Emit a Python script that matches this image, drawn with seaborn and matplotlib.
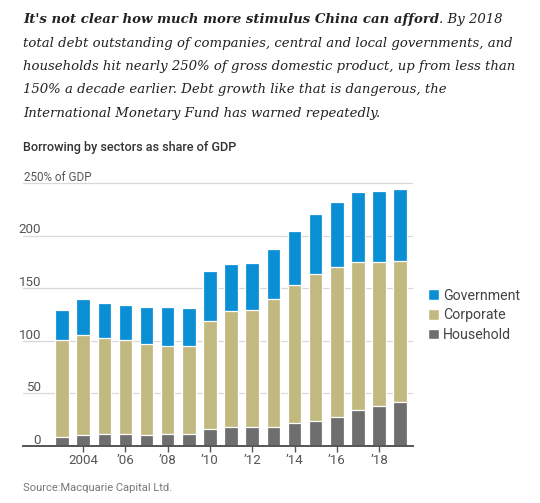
import matplotlib
matplotlib.use("Agg")
import matplotlib.pyplot as plt
import matplotlib.transforms as mtransforms
from matplotlib.patches import Patch
import seaborn as sns
import pandas as pd

# ---- data ----
years = list(range(2003, 2020))
household = [8.9, 10.8, 11.8, 11.8, 10.8, 11.8, 11.8, 15.9, 17.8, 17.8, 18.5, 22.0, 23.9, 27.7, 34.4, 37.6, 41.4]
corporate_top = [100.3, 105.7, 102.9, 100.3, 97.1, 94.9, 95.5, 118.8, 128.0, 129.0, 140.1, 153.5, 163.4, 169.7, 174.5, 174.5, 175.5]
total = [129.6, 139.8, 136.0, 134.4, 132.5, 132.5, 131.5, 165.9, 173.2, 174.2, 187.3, 204.8, 220.7, 231.8, 241.4, 242.0, 244.6]
corporate = [c - h for c, h in zip(corporate_top, household)]
government = [t - c for t, c in zip(total, corporate_top)]
xtick_years = [2004, 2006, 2008, 2010, 2012, 2014, 2016, 2018]
xtick_labels = ["2004", "\u201906", "\u201908", "\u201910", "\u201912", "\u201914", "\u201916", "\u201918"]
ytick_values = [0, 50, 100, 150, 200]
ytick_labels = ["0", "50", "100", "150", "200"]
top_label = "250% of GDP"
series_names = ["Government", "Corporate", "Household"]

COL_GOV = "#0a8fd4"
COL_CORP = "#c2b981"
COL_HH = "#6e6e6e"

df = pd.DataFrame({
    "year": years,
    "household": household,
    "corp_cum": [h + c for h, c in zip(household, corporate)],
    "total": [h + c + g for h, c, g in zip(household, corporate, government)],
})

W, H = 540, 503
sns.set_style("white")
SANS = ["Roboto", "DejaVu Sans"]
plt.rcParams["font.family"] = SANS
fig = plt.figure(figsize=(W / 100, H / 100), dpi=100)
renderer = fig.canvas.get_renderer()

def fit_width(t, target_px):
    w = t.get_window_extent(renderer=renderer).width
    t.set_fontsize(t.get_fontsize() * target_px / w)

# axes placement in pixels
ax_l, ax_r = 23, 413
y0_px, ppu = 446, 1.052
ymax = 260
ax_top = y0_px - ymax * ppu
ax = fig.add_axes([ax_l / W, 1 - y0_px / H, (ax_r - ax_l) / W, (y0_px - ax_top) / H])

bar_w = 0.64
for col, color in [("total", COL_GOV), ("corp_cum", COL_CORP), ("household", COL_HH)]:
    sns.barplot(data=df, x="year", y=col, native_scale=True, color=color,
                width=bar_w, edgecolor="white", linewidth=0.9, ax=ax, saturation=1)

ppy = 21.14
x_left = 2003 - (62 - ax_l) / ppy
x_right = x_left + (ax_r - ax_l) / ppy
ax.set_xlim(x_left, x_right)
ax.set_ylim(0, ymax)

for s in ["top", "right", "left"]:
    ax.spines[s].set_visible(False)
ax.spines["bottom"].set_color("#555555")
ax.spines["bottom"].set_linewidth(1.4)
ax.spines["bottom"].set_zorder(5)

ax.set_xticks(xtick_years)
ax.set_xticklabels(xtick_labels, fontsize=9.6, color="#555555")
ax.tick_params(axis="x", length=4, width=1, color="#555555", pad=2, direction="out", bottom=True)
ax.set_yticks([])
ax.set_xlabel("")
ax.set_ylabel("")

for v in ytick_values[1:] + [250]:
    ax.axhline(v, color="#d8d8d8", lw=0.9, zorder=0)

blend = mtransforms.blended_transform_factory(ax.transAxes, ax.transData)
off = mtransforms.offset_copy(blend, fig=fig, x=0, y=1.6, units="points")
lab_x = (41 - ax_l) / (ax_r - ax_l)
for v, t in zip(ytick_values, ytick_labels):
    ax.text(lab_x, v, t, transform=off, ha="right", va="baseline", fontsize=9.6, color="#555555")
ax.text(0.002, 250, top_label, transform=off, ha="left", va="baseline", fontsize=8.4, color="#555555")

handles = [Patch(facecolor=COL_GOV), Patch(facecolor=COL_CORP), Patch(facecolor=COL_HH)]
fig.legend(handles, series_names, loc="upper left", bbox_to_anchor=(422 / W, 1 - 283 / H),
           frameon=False, fontsize=10.2, handlelength=0.8, handleheight=0.8,
           handletextpad=0.3, labelspacing=0.4, labelcolor="#444444", borderaxespad=0)

# headline text
SERIF = "DejaVu Serif"
lines_y = [20, 43.5, 66.5, 89.5, 113]
def fy(py):
    return 1 - py / H
rest = ["total debt outstanding of companies, central and local governments, and",
        "households hit nearly 250% of gross domestic product, up from less than",
        "150% a decade earlier. Debt growth like that is dangerous, the",
        "International Monetary Fund has warned repeatedly."]
probe = fig.text(0, 0, rest[0], family=SERIF, style="italic", fontsize=11)
fit_width(probe, 490)
fs_head = probe.get_fontsize()
probe.remove()

t1 = fig.text(23 / W, fy(lines_y[0]), "It's not clear how much more stimulus China can afford",
              family=SERIF, style="italic", weight="bold", fontsize=fs_head, color="#222222", va="center")
bb = t1.get_window_extent(renderer=renderer)
fig.text(bb.x1 / W, fy(lines_y[0]), ". By 2018", family=SERIF, style="italic",
         fontsize=fs_head, color="#222222", va="center")
for y, t in zip(lines_y[1:], rest):
    fig.text(23 / W, fy(y), t, family=SERIF, style="italic", fontsize=fs_head, color="#222222", va="center")

st = fig.text(23 / W, fy(147), "Borrowing by sectors as share of GDP", fontsize=11, weight="medium",
              color="#333333", va="center")
fit_width(st, 214)
src = fig.text(23 / W, fy(488), "Source:Macquarie Capital Ltd.", fontsize=9, color="#777777", va="center")
fit_width(src, 150)

fig.savefig("out.png", dpi=100, facecolor="white")
